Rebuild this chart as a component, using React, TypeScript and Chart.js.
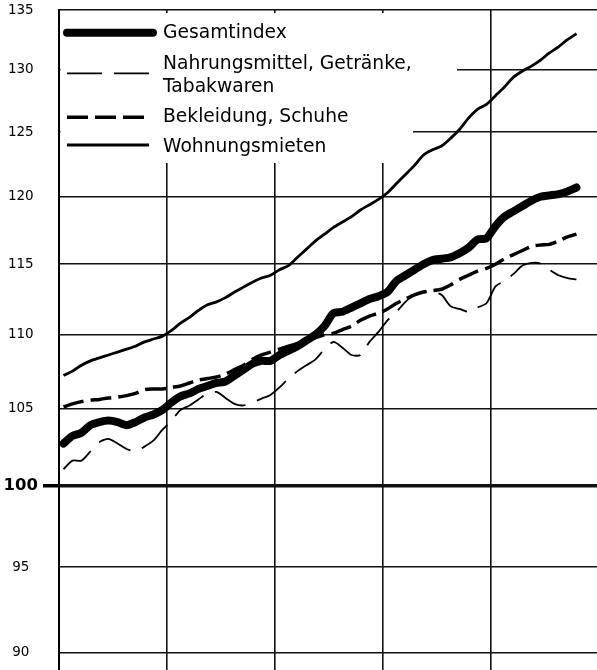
import { useEffect, useRef } from "react";
import { Chart, registerables } from "chart.js";

Chart.register(...registerables);

// ---- data ----
const yTicks = [90, 95, 100, 105, 110, 115, 120, 125, 130, 135];
const yearBoundaries = [0, 12, 24, 36, 48];
const monthCount = 58;
const monthPositions = Array.from({ length: monthCount }, (_, i) => i + 0.5);

const gesamtindex = [
  102.7, 103.2, 103.4, 103.9, 104.1, 104.2, 104.1, 103.9, 104.1, 104.4, 104.6, 104.9,
  105.4, 105.8, 106.0, 106.3, 106.5, 106.7, 106.8, 107.2, 107.6, 108.0, 108.2, 108.2,
  108.6, 108.9, 109.2, 109.6, 110.0, 110.6, 111.5, 111.6, 111.9, 112.2, 112.5, 112.7,
  113.0, 113.8, 114.2, 114.6, 115.0, 115.3, 115.4, 115.5, 115.8, 116.2, 116.8, 116.9,
  117.8, 118.5, 118.9, 119.3, 119.7, 120.0, 120.1, 120.2, 120.4, 120.7,
];
const nahrungsmittel = [
  101.05, 101.6, 101.6, 102.2, 102.8, 103.0, 102.7, 102.35, 102.2, 102.5, 102.9, 103.6,
  104.2, 104.9, 105.2, 105.6, 106.0, 106.1, 105.7, 105.3, 105.2, 105.4, 105.65, 105.9,
  106.4, 107.0, 107.5, 107.9, 108.3, 109.0, 109.5, 109.1, 108.6, 108.6, 109.5, 110.2,
  111.0, 111.6, 112.3, 112.8, 113.0, 113.0, 112.8, 112.0, 111.8, 111.6, 111.9, 112.2,
  113.4, 113.8, 114.3, 114.9, 115.1, 115.05, 114.6, 114.2, 114.0, 113.9,
];
const bekleidung = [
  105.1, 105.3, 105.45, 105.55, 105.6, 105.7, 105.75, 105.85, 106.0, 106.25, 106.3, 106.3,
  106.4, 106.5, 106.7, 106.9, 107.0, 107.1, 107.3, 107.6, 107.9, 108.3, 108.6, 108.8,
  109.0, 109.2, 109.4, 109.6, 109.8, 110.0, 110.1, 110.35, 110.6, 111.0, 111.3, 111.5,
  111.8, 112.2, 112.5, 112.8, 113.0, 113.1, 113.2, 113.5, 113.9, 114.2, 114.5, 114.7,
  115.0, 115.4, 115.7, 116.0, 116.3, 116.4, 116.45, 116.7, 117.0, 117.2,
];
const wohnungsmieten = [
  107.2, 107.5, 107.9, 108.2, 108.4, 108.6, 108.8, 109.0, 109.2, 109.5, 109.7, 109.9,
  110.3, 110.8, 111.2, 111.7, 112.1, 112.3, 112.6, 113.0, 113.35, 113.7, 114.0, 114.2,
  114.6, 114.9, 115.5, 116.1, 116.7, 117.2, 117.7, 118.1, 118.5, 119.0, 119.4, 119.8,
  120.3, 121.0, 121.7, 122.4, 123.2, 123.6, 123.9, 124.5, 125.2, 126.1, 126.8, 127.2,
  127.9, 128.6, 129.4, 129.9, 130.3, 130.8, 131.4, 131.9, 132.5, 133.0,
];
const seriesNames = [
  ["Gesamtindex"],
  ["Nahrungsmittel, Getränke,", "Tabakwaren"],
  ["Bekleidung, Schuhe"],
  ["Wohnungsmieten"],
];

const FONT = '"DejaVu Sans", "Liberation Sans", Arial, sans-serif';

const toPoints = (vals: number[]) => vals.map((v, i) => ({ x: monthPositions[i], y: v }));

// legend layout (relative to chart area top-left)
const legendRows = [
  { sampleY: 22.7, textY: [27.6] },
  { sampleY: 63.3, textY: [58.6, 81.9] },
  { sampleY: 107.3, textY: [111.9] },
  { sampleY: 135, textY: [141.9] },
];

const boxLegendPlugin = {
  id: "boxLegend",
  beforeDatasetsDraw(chart: any) {
    const ctx = chart.ctx as CanvasRenderingContext2D;
    const { left, top } = chart.chartArea;
    ctx.save();
    ctx.fillStyle = "#ffffff";
    ctx.fillRect(left + 1.5, top + 3, 398 - 1.5, 87);
    ctx.fillRect(left + 1.5, top + 89, 354 - 1.5, 64);

    legendRows.forEach((row, i) => {
      const ds = chart.data.datasets[i];
      ctx.beginPath();
      ctx.strokeStyle = ds.borderColor;
      ctx.lineWidth = ds.borderWidth;
      ctx.lineCap = ds.borderCapStyle || "butt";
      ctx.setLineDash(ds.borderDash || []);
      const x0 = left + (i === 0 ? 8 : 8);
      const x1 = left + (i === 0 ? 94 : 90);
      ctx.moveTo(x0, top + row.sampleY);
      ctx.lineTo(x1, top + row.sampleY);
      ctx.stroke();
      ctx.setLineDash([]);

      ctx.fillStyle = "#000";
      ctx.font = `18.7px ${FONT}`;
      ctx.textBaseline = "alphabetic";
      ctx.textAlign = "left";
      seriesNames[i].forEach((line, j) => {
        ctx.fillText(line, left + 104, top + row.textY[j]);
      });
    });
    ctx.restore();
  },
};

export default function App() {
  const ref = useRef<HTMLCanvasElement>(null);

  useEffect(() => {
    if (!ref.current) return;
    const chart = new Chart(ref.current, {
      type: "line",
      data: {
        datasets: [
          {
            label: seriesNames[0].join(" "),
            data: toPoints(gesamtindex),
            borderColor: "#000",
            borderWidth: 8,
            borderCapStyle: "round",
            borderJoinStyle: "round",
            pointRadius: 0,
            tension: 0.25,
            fill: false,
          },
          {
            label: seriesNames[1].join(" "),
            data: toPoints(nahrungsmittel),
            borderColor: "#000",
            borderWidth: 1.8,
            borderDash: [35, 12],
            pointRadius: 0,
            tension: 0.25,
            fill: false,
          },
          {
            label: seriesNames[2].join(" "),
            data: toPoints(bekleidung),
            borderColor: "#000",
            borderWidth: 3.5,
            borderDash: [21, 7],
            pointRadius: 0,
            tension: 0.25,
            fill: false,
          },
          {
            label: seriesNames[3].join(" "),
            data: toPoints(wohnungsmieten),
            borderColor: "#000",
            borderWidth: 2.8,
            pointRadius: 0,
            tension: 0.25,
            fill: false,
          },
        ],
      } as any,
      options: {
        responsive: false,
        devicePixelRatio: 1,
        animation: false,
        events: [],
        layout: { padding: { top: 10, left: 0, right: 0, bottom: 0 } },
        plugins: {
          legend: { display: false },
          tooltip: { enabled: false },
        },
        scales: {
          x: {
            type: "linear",
            min: 0,
            max: 59.78,
            afterBuildTicks: (s: any) => {
              s.ticks = yearBoundaries.map((v) => ({ value: v }));
            },
            afterFit: (s: any) => {
              s.height = 0;
              s.paddingLeft = 0;
              s.paddingRight = 0;
            },
            ticks: { display: false },
            grid: { color: "#111", lineWidth: 1.6, drawTicks: false },
            border: { display: false },
          },
          y: {
            type: "logarithmic",
            min: 89.03,
            max: 135,
            afterBuildTicks: (s: any) => {
              s.ticks = yTicks.map((v) => ({ value: v }));
            },
            afterFit: (s: any) => {
              s.width = 59;
              s.paddingTop = 0;
              s.paddingBottom = 0;
            },
            ticks: {
              color: "#000",
              padding: 5,
              crossAlign: "center",
              autoSkip: false,
              callback: (v: any) => String(v),
              font: (c: any) =>
                c.tick && c.tick.value === 100
                  ? { family: FONT, size: 16.5, weight: "bold" }
                  : { family: FONT, size: 13.5 },
            },
            grid: {
              color: "#111",
              lineWidth: (c: any) => (c.tick && c.tick.value === 100 ? 3.5 : 1.6),
              drawTicks: true,
              tickLength: 16,
              tickWidth: 3.5,
              tickColor: (c: any) =>
                c.tick && c.tick.value === 100 ? "#000" : "rgba(0,0,0,0)",
            },
            border: { display: true, color: "#000", width: 2 },
          },
        },
      } as any,
      plugins: [boxLegendPlugin],
    });
    return () => chart.destroy();
  }, []);

  return (
    <div
      style={{
        position: "absolute",
        left: 0,
        top: 0,
        width: 597,
        height: 670,
        background: "#fff",
      }}
    >
      <canvas
        ref={ref}
        width={597}
        height={670}
        style={{ display: "block", width: 597, height: 670 }}
      />
    </div>
  );
}
